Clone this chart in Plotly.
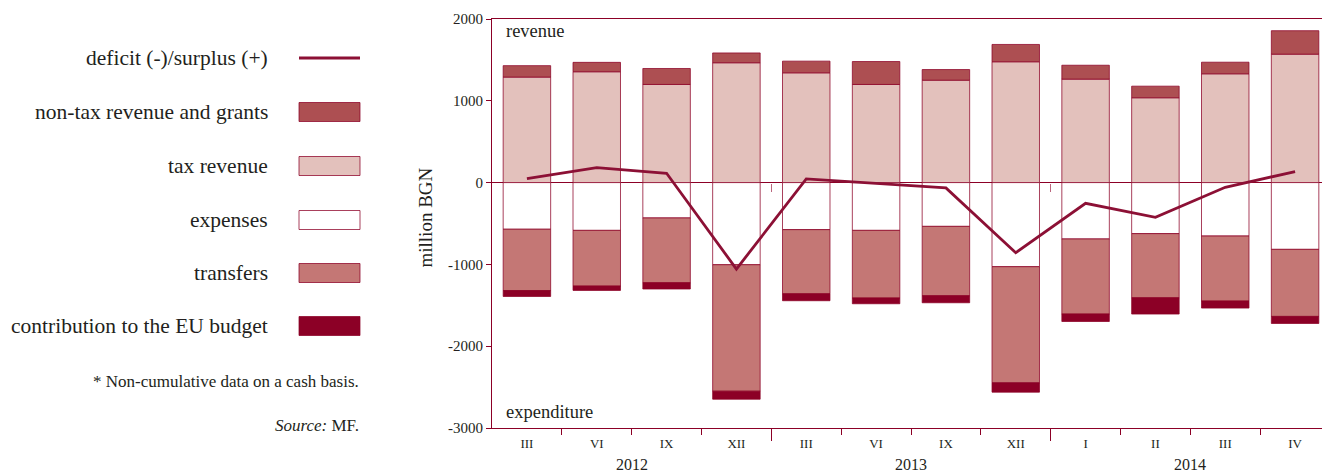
import plotly.graph_objects as go

# ---- data (million BGN) ----
months = ["III", "VI", "IX", "XII", "III", "VI", "IX", "XII", "I", "II", "III", "IV"]
years = ["2012", "2013", "2014"]
year_sizes = [4, 4, 4]
tax_revenue = [1290, 1355, 1200, 1465, 1342, 1200, 1252, 1477, 1265, 1037, 1330, 1570]
nontax_revenue = [140, 115, 195, 120, 143, 280, 130, 212, 170, 142, 142, 287]
expenses = [-570, -584, -432, -1004, -575, -584, -535, -1028, -689, -624, -653, -816]
transfers = [-750, -681, -792, -1546, -784, -827, -848, -1420, -918, -784, -795, -820]
eu_contribution = [-72, -53, -77, -98, -85, -70, -86, -114, -91, -199, -86, -86]
balance = [49, 184, 114, -1057, 45, -8, -65, -857, -253, -424, -57, 135]
y_ticks = [2000, 1000, 0, -1000, -2000, -3000]

# ---- styling ----
OFF = 8                       # page body margin of the html page
W, H = 1330 - OFF, 473 - OFF
L, R, T, B = 492 - OFF, 0, 19 - OFF, 45
PW, PH = W - L - R, H - T - B
FONT = "Liberation Serif, Times New Roman, serif"
TXT = "#231f20"
DARK = "#8c0026"
OUTLINE = "rgba(140,0,38,0.75)"
C_NONTAX = "#ad4f52"
C_TAX = "#e3c1bc"
C_EXP = "#ffffff"
C_TRANS = "#c47775"
C_EU = "#8c0026"
C_LINE = "#8c1035"


def px(x):
    return (x - OFF - L) / PW


def py(y):
    return (H - B - (y - OFF)) / PH


def f(size):
    return dict(size=size, color=TXT, family=FONT)


idx = list(range(len(months)))
bounds = [i + 0.5 for i in idx[:-1]]
year_bounds = []
year_centers = []
acc = 0
for n in year_sizes:
    year_centers.append(acc + (n - 1) / 2)
    acc += n
    year_bounds.append(acc - 0.5)
year_bounds = year_bounds[:-1]

fig = go.Figure()
bw = 0.68
for name, vals, col in [
    ("tax revenue", tax_revenue, C_TAX),
    ("non-tax revenue and grants", nontax_revenue, C_NONTAX),
    ("expenses", expenses, C_EXP),
    ("transfers", transfers, C_TRANS),
    ("contribution to the EU budget", eu_contribution, C_EU),
]:
    fig.add_trace(go.Bar(
        x=idx, y=vals, name=name, width=bw,
        marker=dict(color=col, line=dict(color=OUTLINE, width=1)),
        showlegend=False, hoverinfo="skip",
    ))

fig.add_trace(go.Scatter(
    x=idx, y=balance, mode="lines", name="deficit (-)/surplus (+)",
    line=dict(color=C_LINE, width=2.8), showlegend=False, hoverinfo="skip",
))

# invisible traces binding overlay axes (for year-boundary ticks)
fig.add_trace(go.Scatter(x=[idx[0]], y=[0], xaxis="x2", mode="markers",
                         marker=dict(opacity=0), showlegend=False, hoverinfo="skip"))
fig.add_trace(go.Scatter(x=[idx[0]], y=[0], xaxis="x3", mode="markers",
                         marker=dict(opacity=0), showlegend=False, hoverinfo="skip"))

xr = [-0.5, len(months) - 0.5]
yr = [y_ticks[-1], y_ticks[0]]

fig.update_layout(
    width=W, height=H,
    margin=dict(l=L, r=R, t=T, b=B),
    paper_bgcolor="white", plot_bgcolor="white",
    barmode="relative",
    font=dict(family=FONT, color=TXT),
    xaxis=dict(
        range=xr, showgrid=False, zeroline=False,
        showline=True, linecolor=DARK, linewidth=1.2, mirror=True,
        tickmode="array", tickvals=idx, ticktext=months, ticks="",
        tickfont=f(13), ticklabelstandoff=3,
        minor=dict(tickmode="array", tickvals=bounds, ticks="outside",
                   ticklen=6, tickcolor=DARK, tickwidth=1),
    ),
    xaxis2=dict(
        range=xr, overlaying="x", anchor="y", side="bottom",
        showgrid=False, zeroline=False, showline=False,
        tickmode="array", tickvals=year_bounds,
        ticks="outside", ticklen=12, tickcolor=DARK, tickwidth=1.2,
        showticklabels=False,
    ),
    xaxis3=dict(
        range=xr, overlaying="x", anchor="free",
        position=(0 - yr[0]) / (yr[1] - yr[0]), side="bottom",
        showgrid=False, zeroline=False, showline=False,
        tickmode="array", tickvals=year_bounds,
        ticks="outside", ticklen=8, tickcolor="rgba(140,0,38,0.6)", tickwidth=1,
        showticklabels=False,
    ),
    yaxis=dict(
        range=yr, showgrid=False,
        zeroline=True, zerolinecolor=DARK, zerolinewidth=1.2,
        showline=True, linecolor=DARK, linewidth=1.2,
        tickmode="array", tickvals=y_ticks, ticktext=[str(v) for v in y_ticks],
        ticks="outside", ticklen=5, tickcolor=DARK,
        tickfont=f(15),
    ),
)

ann = []
for yv, xc in zip(years, year_centers):
    ann.append(dict(x=xc, xref="x", y=py(464.5), yref="paper", text=yv,
                    showarrow=False, font=f(16),
                    xanchor="center", yanchor="middle"))
ann.append(dict(x=px(504), y=py(31), xref="paper", yref="paper", text="revenue",
                showarrow=False, xanchor="left", yanchor="middle", font=f(18.5)))
ann.append(dict(x=px(504), y=py(412), xref="paper", yref="paper", text="expenditure",
                showarrow=False, xanchor="left", yanchor="middle", font=f(18.5)))
ann.append(dict(x=px(425), y=py(217.5), xref="paper", yref="paper", text="million BGN",
                showarrow=False, textangle=-90, xanchor="center", yanchor="middle",
                font=f(19)))

shapes = []
legend_rows = [
    ("deficit (-)/surplus (+)", None, 58),
    ("non-tax revenue and grants", C_NONTAX, 112),
    ("tax revenue", C_TAX, 166),
    ("expenses", C_EXP, 220),
    ("transfers", C_TRANS, 273),
    ("contribution to the EU budget", C_EU, 326),
]
for label, col, yc in legend_rows:
    ann.append(dict(x=px(270), y=py(yc), xref="paper", yref="paper", text=label,
                    showarrow=False, xanchor="right", yanchor="middle", font=f(21.5)))
    if col is None:
        shapes.append(dict(type="line", xref="paper", yref="paper",
                           x0=px(299), x1=px(360), y0=py(yc), y1=py(yc),
                           line=dict(color=C_LINE, width=2.8)))
    else:
        shapes.append(dict(type="rect", xref="paper", yref="paper",
                           x0=px(299), x1=px(360), y0=py(yc - 9.5), y1=py(yc + 9.5),
                           fillcolor=col, line=dict(color=OUTLINE, width=1)))

ann.append(dict(x=px(361), y=py(381), xref="paper", yref="paper",
                text="* Non-cumulative data on a cash basis.",
                showarrow=False, xanchor="right", yanchor="middle", font=f(17)))
ann.append(dict(x=px(361), y=py(425), xref="paper", yref="paper",
                text="<i>Source:</i> MF.",
                showarrow=False, xanchor="right", yanchor="middle", font=f(17)))

fig.update_layout(annotations=ann, shapes=shapes)
fig.write_html("out.html")
